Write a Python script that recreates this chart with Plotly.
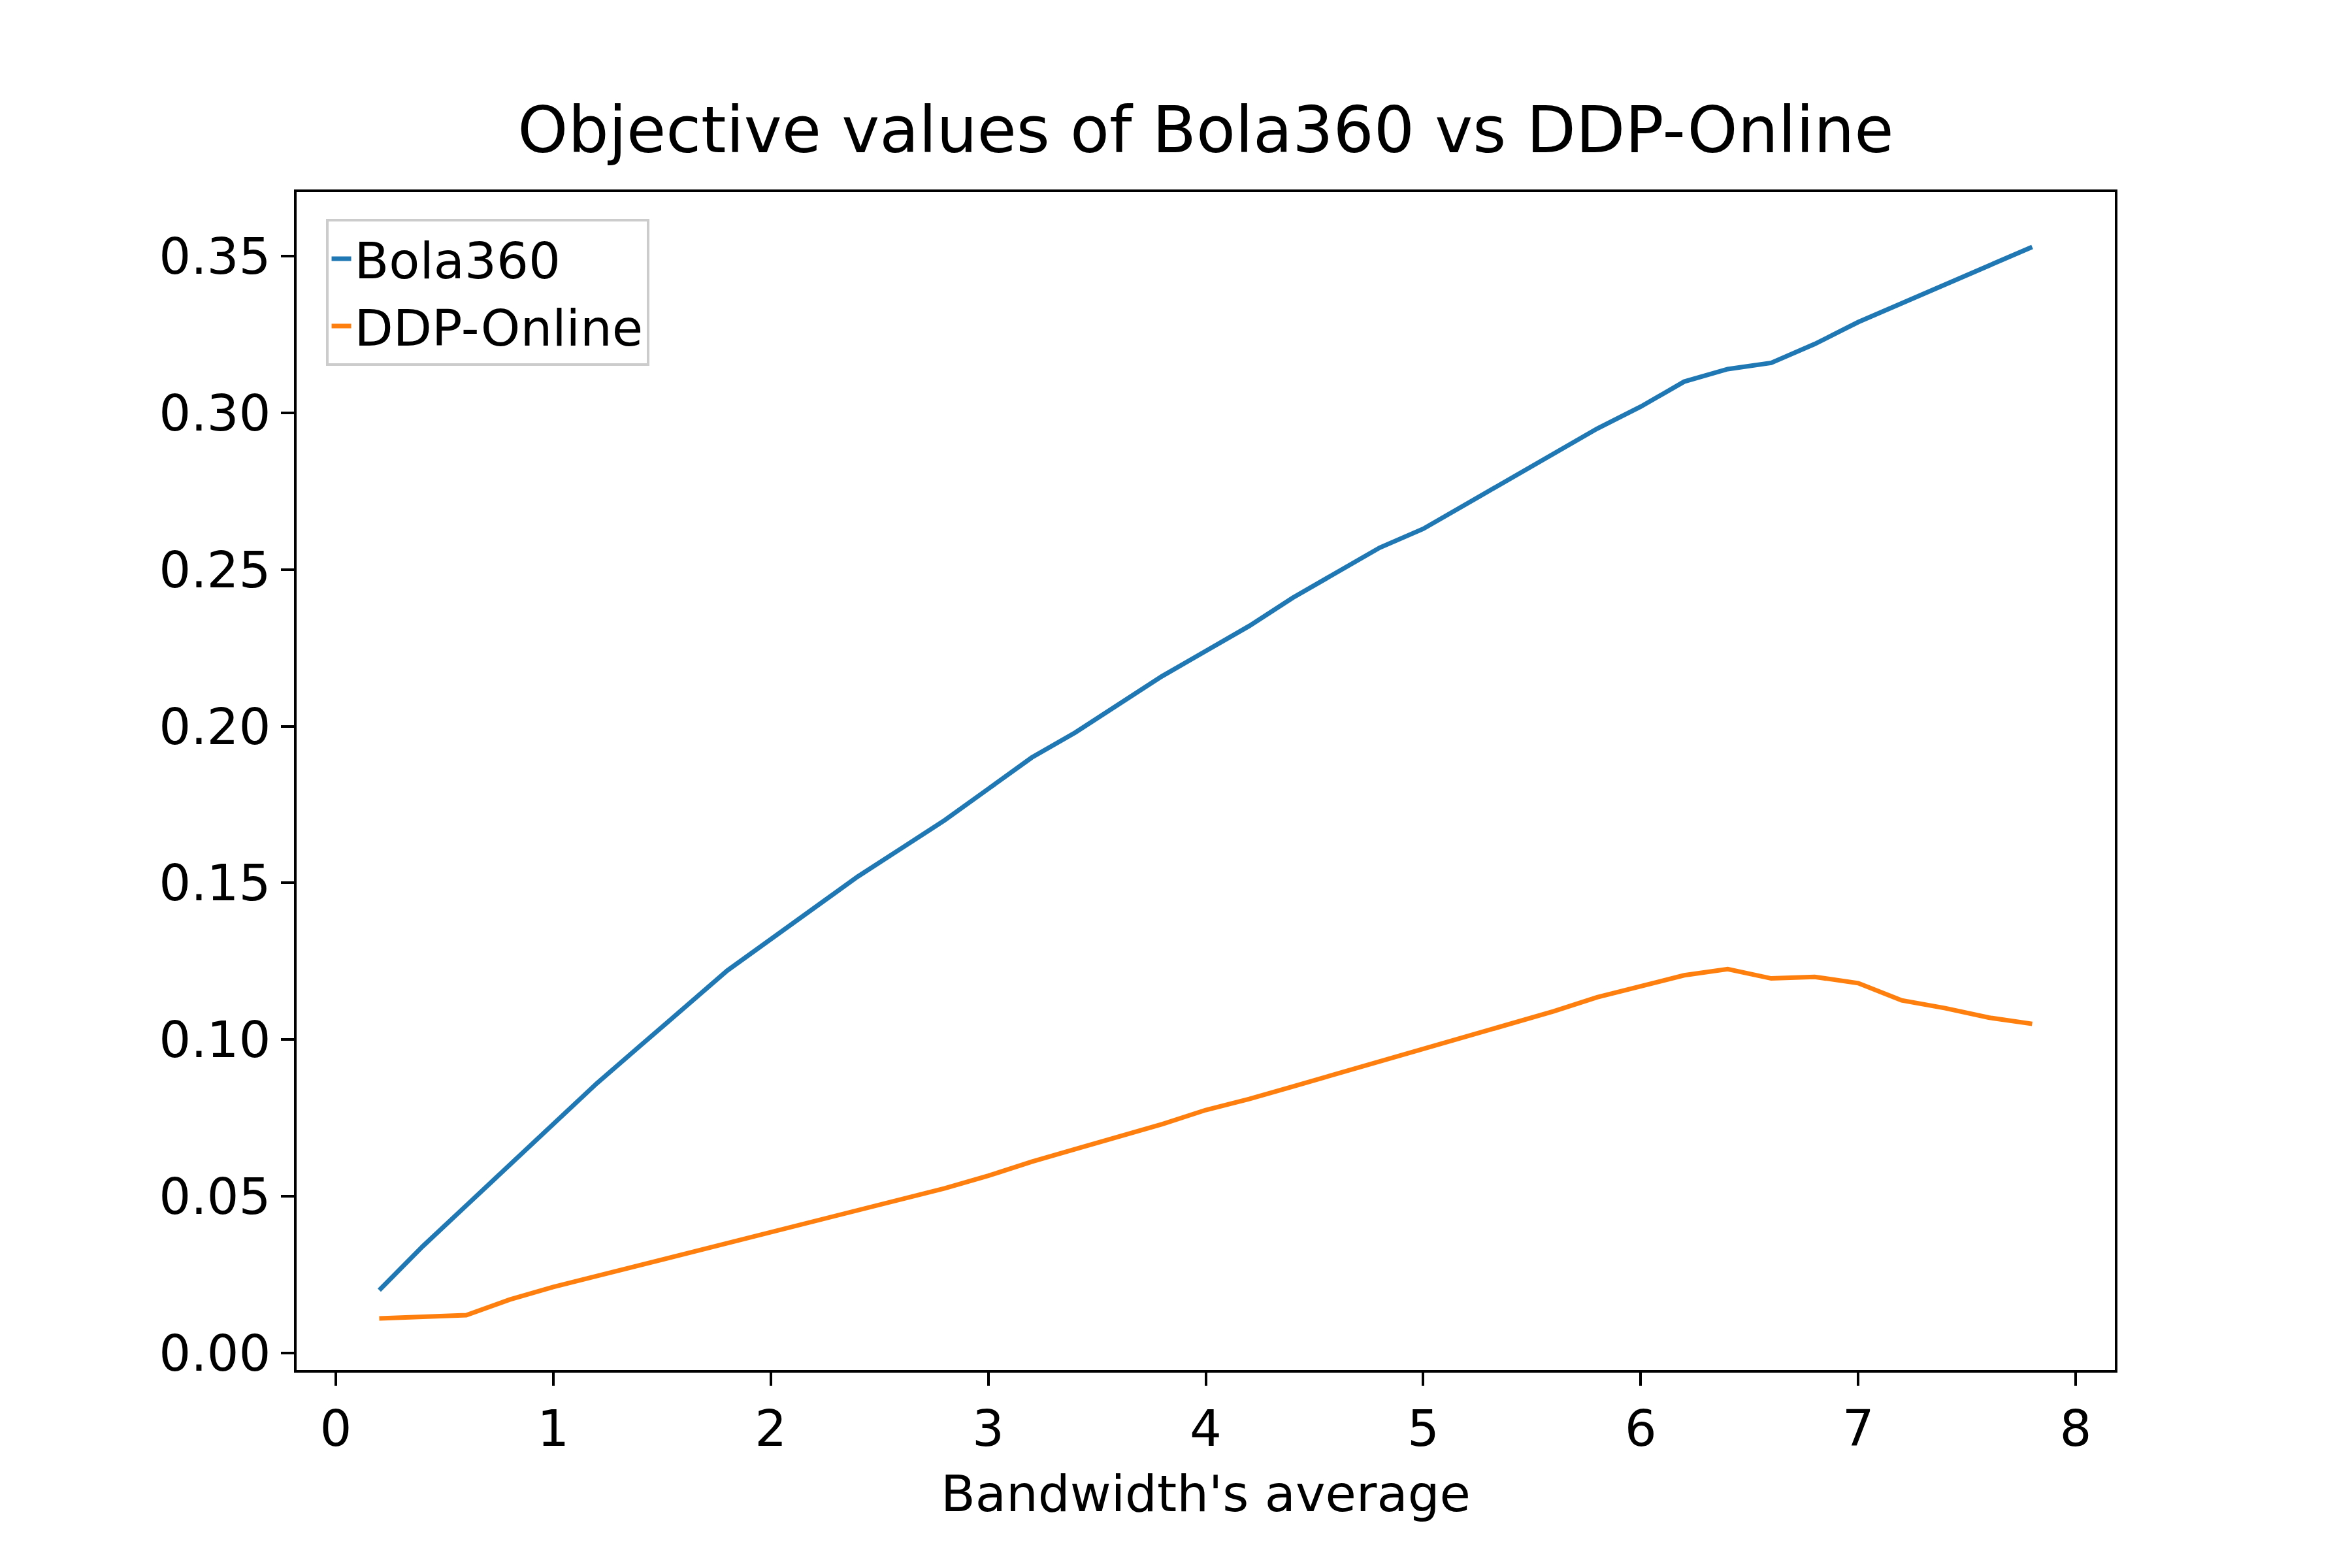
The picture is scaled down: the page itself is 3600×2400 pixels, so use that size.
import plotly.graph_objects as go

bandwidth = [0.2, 0.4, 0.6, 0.8, 1.0, 1.2, 1.4, 1.6, 1.8, 2.0, 2.2, 2.4, 2.6, 2.8, 3.0,
             3.2, 3.4, 3.6, 3.8, 4.0, 4.2, 4.4, 4.6, 4.8, 5.0, 5.2, 5.4, 5.6, 5.8, 6.0,
             6.2, 6.4, 6.6, 6.8, 7.0, 7.2, 7.4, 7.6, 7.8]
bola360 = [0.020, 0.034, 0.047, 0.060, 0.073, 0.086, 0.098, 0.110, 0.122, 0.132,
           0.142, 0.152, 0.161, 0.170, 0.180, 0.190, 0.198, 0.207, 0.216, 0.224,
           0.232, 0.241, 0.249, 0.257, 0.263, 0.271, 0.279, 0.287, 0.295, 0.302,
           0.310, 0.314, 0.316, 0.322, 0.329, 0.335, 0.341, 0.347, 0.353]
ddp_online = [0.011, 0.0115, 0.012, 0.017, 0.021, 0.0245, 0.028, 0.0315, 0.035, 0.0385,
              0.042, 0.0455, 0.049, 0.0525, 0.0565, 0.061, 0.065, 0.069, 0.073, 0.0775,
              0.081, 0.085, 0.089, 0.093, 0.097, 0.101, 0.105, 0.109, 0.1135, 0.117,
              0.1205, 0.1225, 0.1195, 0.120, 0.118, 0.1125, 0.110, 0.107, 0.105]

x_ticks = [0, 1, 2, 3, 4, 5, 6, 7, 8]
y_ticks = [0.00, 0.05, 0.10, 0.15, 0.20, 0.25, 0.30, 0.35]

fig = go.Figure()
fig.add_trace(go.Scatter(x=bandwidth, y=bola360, mode="lines", name="Bola360",
                         line=dict(color="#1f77b4", width=7)))
fig.add_trace(go.Scatter(x=bandwidth, y=ddp_online, mode="lines", name="DDP-Online",
                         line=dict(color="#ff7f0e", width=7)))

axis_common = dict(showline=True, linecolor="black", linewidth=4, mirror=True,
                   ticks="outside", ticklen=20, tickwidth=4, tickcolor="black",
                   showgrid=False, zeroline=False,
                   tickfont=dict(size=77, color="black"))

fig.update_layout(
    width=3600, height=2400,
    paper_bgcolor="white", plot_bgcolor="white",
    font=dict(family="DejaVu Sans", color="black"),
    margin=dict(l=446, r=371, t=286, b=311, autoexpand=False),
    title=dict(text="Objective values of Bola360 vs DDP-Online", x=0.5, xref="paper",
               xanchor="center", y=1 - 225 / 2400, yanchor="bottom",
               font=dict(size=98)),
    xaxis=dict(range=[-0.18, 8.18], tickvals=x_ticks, ticktext=[str(v) for v in x_ticks],
               title=dict(text="Bandwidth's average", font=dict(size=77), standoff=30),
               **axis_common),
    yaxis=dict(range=[-0.0055, 0.3705], tickvals=y_ticks,
               ticktext=[f"{v:.2f}" for v in y_ticks], **axis_common),
    legend=dict(x=0.016, y=0.977, xanchor="left", yanchor="top",
                bgcolor="rgba(255,255,255,0.8)", bordercolor="#cccccc", borderwidth=4,
                font=dict(size=77), tracegroupgap=0),
    showlegend=True,
)

fig.write_html("out.html")
